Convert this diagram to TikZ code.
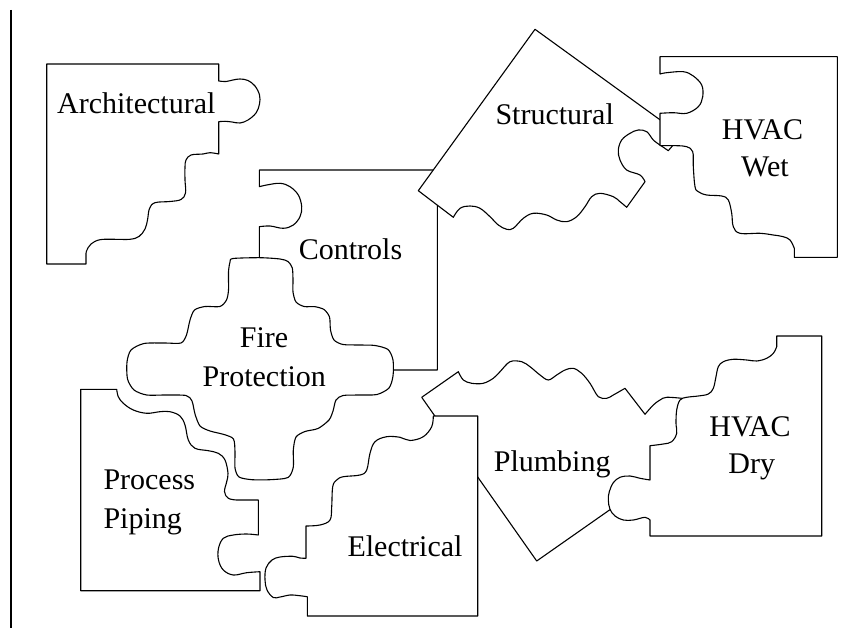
\documentclass[tikz,border=0pt]{standalone}
\usepackage{fontspec}
\setmainfont{Liberation Serif}
\begin{document}
\begin{tikzpicture}[x=1pt,y=-1pt,
  piece/.style={draw=black,fill=white,line width=1.1pt,line join=round},
  lbl/.style={inner sep=0pt,anchor=base,font=\fontsize{30}{36}\selectfont},
  lbll/.style={inner sep=0pt,anchor=base west,font=\fontsize{30}{36}\selectfont}]
\useasboundingbox (0,0) rectangle (866,628);
\fill[white] (0,0) rectangle (866,628);
% left rule
\draw[line width=1.8pt] (11,10) -- (11,628);

% Architectural
\draw[piece] (46.7,64) -- (218.7,64) -- (218.7,81)
  -- plot[smooth,tension=0.6] coordinates {(218.7,81) (226,81.5) (233,80) (240,79) (248,80.5) (255,86) (259.5,95) (259.5,104) (256,113) (248,120) (240,123) (232,122) (225,121.3) (218.7,121.7)}
  -- (218.7,154)
  -- plot[smooth,tension=0.6] coordinates {(218.7,154) (210,152.7) (203,154) (191,155) (186,160) (185,167) (185,180) (185.5,193) (181,199.5) (170,201.5) (155,202.7) (149.5,208.5) (147.5,220) (145,229) (139,236.5) (130,239.3) (115,239.3) (100,239.7) (91,244) (86.5,251) (86,255)}
  -- (86,264) -- (46.7,264) -- cycle;
\node[lbl] (arch) at (136.3,113.3) {Architectural};

% Controls (under Fire Protection and Structural)
\draw[piece] (259.3,170) -- (437.3,170) -- (437.3,370) -- (259.3,370) -- (259.3,226.7)
  -- plot[smooth,tension=0.6] coordinates {(259.3,226.7) (270,226) (283.3,228.3) (293.3,225) (300,216.7) (301.7,206.7) (298.3,195) (290,186.7) (280,183.3) (266.7,185) (259.3,186.7)}
  -- cycle;
\node[lbl] (ctrl) at (350.5,259.3) {Controls};

% Fire Protection
\draw[piece] plot[smooth cycle,tension=0.45] coordinates {
  (233,258.5) (260,257.7) (280,259) (288,261.5) (292.3,268) (293,280) (293,292) (296,302) (304,306.5) (315,306.7) (324,309.5) (329.5,317) (330.5,330) (334,340) (343,344.5) (360,345) (375,345.5) (388,349.5) (393,360) (393,376) (389,388) (377,394.5) (360,395) (343,395.5) (336,400) (333,411) (329,420) (318,428.5) (305,431.5) (296,437) (293.3,450) (293.3,467) (288,477.5) (270,479.7) (252,479.7) (239,477) (235,468) (235,452) (233.5,439) (224,434.5) (210,431) (200,426) (195,414) (192,401) (186,395.5) (165,395) (146.7,395) (134,390) (127.5,379) (127,362) (131,350) (144,343.5) (165,343) (181,343) (186.5,335) (190,320) (194.5,310) (205,306.5) (220,306.5) (226.5,300) (228.5,290) (228.5,272) (230,262)};
\node[lbl] (fire1) at (264,347.7) {Fire};
\node[lbl] (fire2) at (264.3,386) {Protection};

% Process Piping
\draw[piece] (80.7,389.3) -- (116.7,389.3)
  -- plot[smooth,tension=0.6] coordinates {(116.7,389.3) (118.3,396.7) (123.3,403.3) (133.3,410) (146.7,413.3) (160,411.7) (170,411.7) (180,416) (185,425) (188.3,440) (195,448.3) (208.3,450.7) (218.3,453.3) (225,460) (228,473.3) (226.7,481.7) (224.5,491.7) (228.3,498.3) (236.7,500)}
  -- (258.3,500) -- (258.3,535)
  -- plot[smooth,tension=0.6] coordinates {(258.3,535) (246.7,534) (233.3,535) (223.3,538.3) (218.5,548.3) (218.5,560) (223.3,570) (233.3,575) (246.7,572.7) (260,571.7)}
  -- (260,590.7) -- (80.7,590.7) -- cycle;
\node[lbll] (proc1) at (103.3,489.3) {Process};
\node[lbll] (proc2) at (103.3,528) {Piping};

% Structural
\draw[piece] (535,29.3) -- (681,135) -- (671.7,146.7) -- (668.3,150.7) -- (660,145)
  -- plot[smooth,tension=0.6] coordinates {(660,145) (653.3,140) (646.7,131.7) (638.3,130) (630,133.3) (621.7,140) (618.3,150) (620,160) (626.7,170) (640,175) (645,181.7)}
  -- (626.7,207.3)
  -- plot[smooth,tension=0.6] coordinates {(626.7,207.3) (620,201.7) (613.3,196.7) (600,193.3) (591.7,196.7) (585,206.7) (576.7,216.7) (566.7,221.7) (556.7,220) (546.7,215) (533.3,213.3) (523.3,218.3) (513.3,228.3) (506.7,229.3) (498.3,225) (490,216.7) (480,208.3) (470,206) (460,208.3) (453.3,217.3)}
  -- (418.3,190.7) -- cycle;
\node[lbl] (struct) at (554.7,124.3) {Structural};

% HVAC Wet
\draw[piece] (660,56.7) -- (837.3,56.7) -- (837.3,257.3) -- (794.3,257.3) -- (794.3,248.3)
  -- plot[smooth,tension=0.6] coordinates {(794.3,248.3) (790,240) (783.3,236.7) (773.3,235) (760,233.3) (740,233.3) (733.3,226.7) (731.7,213.3) (728.3,200) (721.7,196) (706.7,195) (698.3,191.7) (695,186.7) (693.3,166.7) (692.7,151.7) (686.7,146.7) (676.7,145.7) (663.3,145.7)}
  -- (660,145.7) -- (660,113.3)
  -- plot[smooth,tension=0.6] coordinates {(660,113.3) (673.3,112.7) (686.7,113.3) (698.3,106.7) (702.7,96.7) (701.7,85) (693.3,76) (683.3,71.7) (666.7,72.7) (660,74)}
  -- cycle;
\node[lbl] (wet1) at (762.5,139.3) {HVAC};
\node[lbl] (wet2) at (765,176.7) {Wet};

% Plumbing (under Electrical and HVAC Dry)
\draw[piece] (421.7,397.3) -- (458.3,371.7)
  -- plot[smooth,tension=0.55] coordinates {(458.3,371.7) (463.3,380) (471.7,383.3) (483.3,383.3) (493.3,378.3) (500,371.7) (510,361.7) (521.7,361.7) (530,366.7) (540,375) (548.3,380) (556.7,375) (565,370) (573.3,368.3) (581.7,373.3) (590,383.3) (598.3,396.7) (606.7,398.3) (613.3,395) (625,388.3)}
  -- (645,414.3)
  -- plot[smooth,tension=0.6] coordinates {(645,414.3) (653.3,405) (660,400) (666.7,397.3) (681.7,398.3)}
  -- (700,410) -- (700,495) -- (625,500) -- (609.5,510) -- (536.7,561) -- cycle;
\node[lbl] (plumb) at (552.2,471.7) {Plumbing};

% Electrical
\draw[piece] (477.7,416) -- (477.7,616) -- (307.3,616) -- (307.3,596.7)
  -- plot[smooth,tension=0.6] coordinates {(307.3,596.7) (298,595.5) (290,595) (280,597) (273.3,597.5) (267,590) (265,580) (266,568) (272,560) (280,557) (293,556.3) (300,558) (306,558.3)}
  -- (306,526)
  -- plot[smooth,tension=0.6] coordinates {(306,526) (320,525) (330,520) (331.7,506.7) (332.7,486.7) (336.7,480) (343.3,476.7) (360,475) (366.7,470) (370,453.3) (375,441.7) (386.7,436.7) (400,437.3) (410,440.5) (423.3,436.7) (431.7,426.7) (433.3,416)}
  -- cycle;
\node[lbl] (elec) at (405,556.7) {Electrical};

% HVAC Dry
\draw[piece] (776.7,336) -- (821.7,336) -- (821.7,536) -- (650,536) -- (650,520)
  -- plot[smooth,tension=0.6] coordinates {(650,520) (645,517.3) (633.3,520) (623.3,520) (615,516) (610,509.3) (608.3,500) (609.3,491.7) (613.3,482.7) (620,477.3) (630,476) (640,478.3) (650,480)}
  -- (650,445.7)
  -- plot[smooth,tension=0.6] coordinates {(650,445.7) (663.3,444) (671.7,441.7) (676.7,433.3) (676,423.3) (676.7,410) (680,400) (686.7,397.3) (698.3,396) (708.3,394) (713.3,388.3) (716,376.7) (718.3,366.7) (723.3,361.7) (733.3,359.3) (746.7,360) (756.7,361) (766.7,358.3) (773.3,353.3) (776.7,346.7)}
  -- cycle;
\node[lbl] (dry1) at (750,436) {HVAC};
\node[lbl] (dry2) at (751.7,473.3) {Dry};
\end{tikzpicture}
\end{document}
